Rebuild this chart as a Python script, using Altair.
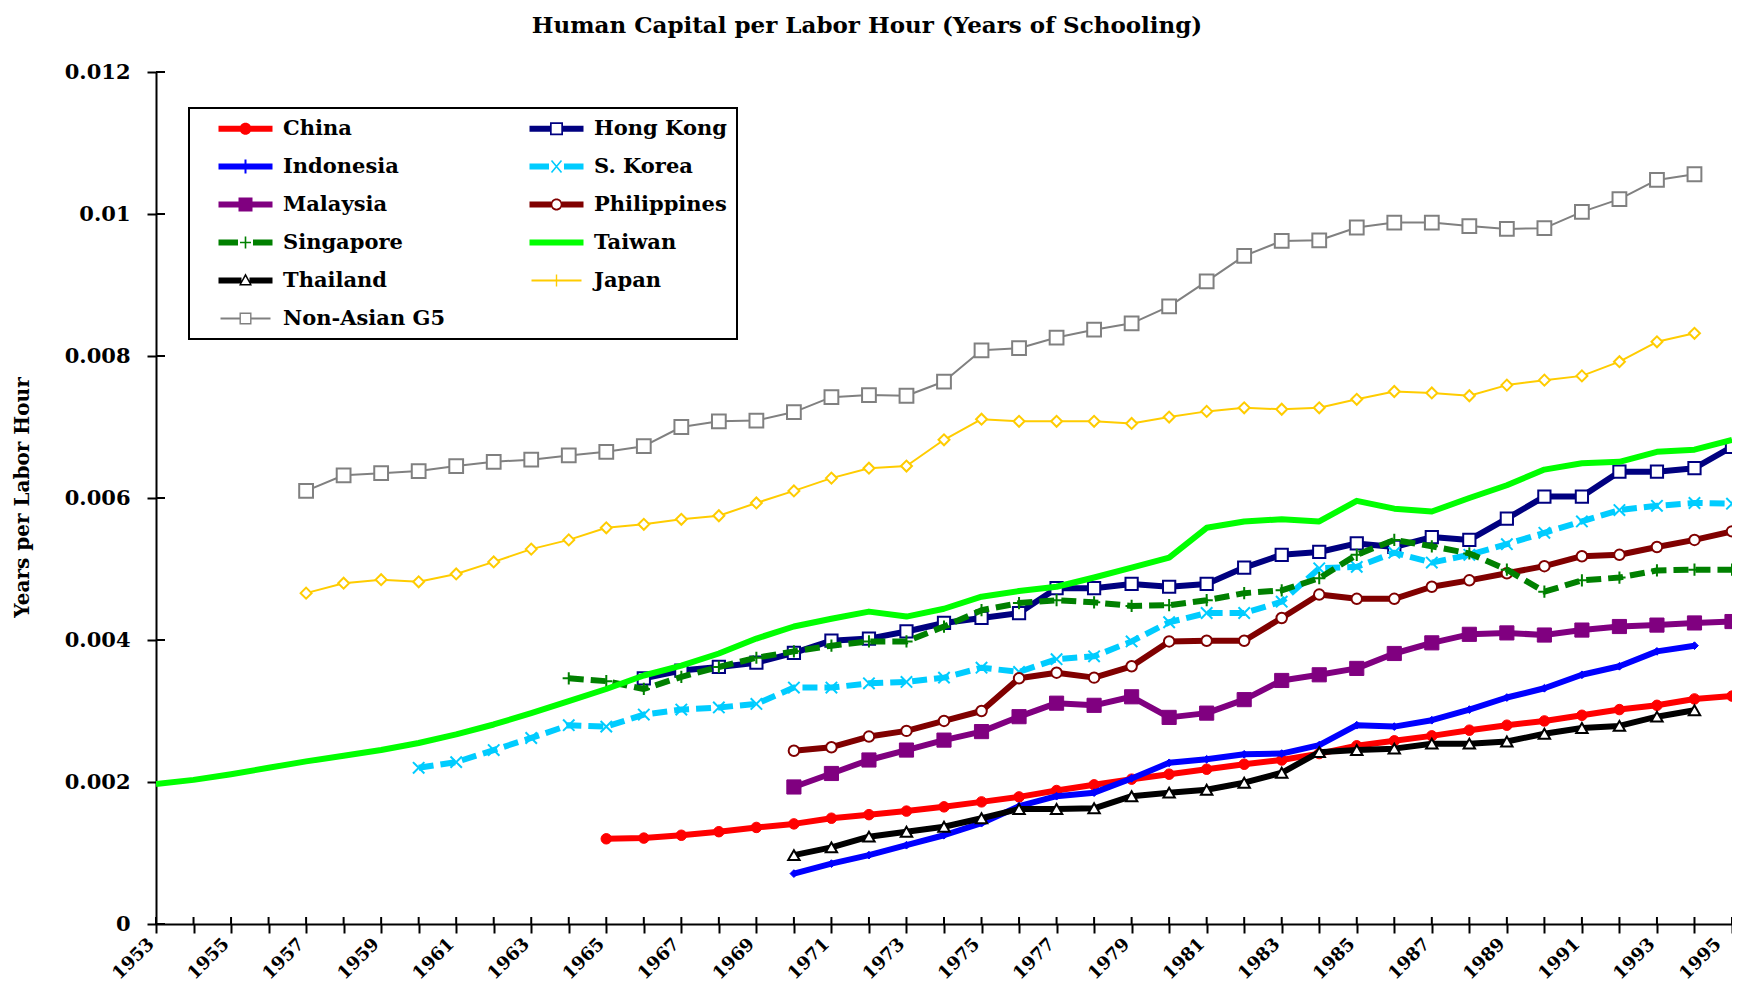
import altair as alt
import pandas as pd

# ---------------- data ----------------
years = list(range(1953, 1996))
series_names = ["China", "Hong Kong", "Indonesia", "S. Korea", "Malaysia", "Philippines",
                "Singapore", "Taiwan", "Thailand", "Japan", "Non-Asian G5"]

china_start = 1965
china = [0.00120, 0.00121, 0.00125, 0.00130, 0.00136, 0.00141, 0.00149, 0.00154, 0.00159, 0.00165,
         0.00172, 0.00179, 0.00188, 0.00196, 0.00204, 0.00211, 0.00218, 0.00225, 0.00231, 0.00240,
         0.00251, 0.00258, 0.00265, 0.00273, 0.00280, 0.00286, 0.00294, 0.00302, 0.00308, 0.00317, 0.00321]

hongkong_start = 1966
hongkong = [0.00346, 0.00357, 0.00362, 0.00368, 0.00382, 0.00399, 0.00402, 0.00412, 0.00424, 0.00431,
            0.00438, 0.00473, 0.00473, 0.00479, 0.00475, 0.00479, 0.00502, 0.00520, 0.00524, 0.00536,
            0.00531, 0.00545, 0.00541, 0.00571, 0.00602, 0.00602, 0.00637, 0.00637, 0.00642, 0.00672]

indonesia_start = 1970
indonesia = [0.00071, 0.00085, 0.00097, 0.00111, 0.00125, 0.00142, 0.00166, 0.00180, 0.00185, 0.00205,
             0.00227, 0.00232, 0.00239, 0.00240, 0.00252, 0.00280, 0.00278, 0.00287, 0.00302, 0.00319,
             0.00332, 0.00351, 0.00363, 0.00384, 0.00392]

korea_start = 1960
korea = [0.00220, 0.00228, 0.00245, 0.00262, 0.00280, 0.00278, 0.00295, 0.00302, 0.00305, 0.00310,
         0.00333, 0.00333, 0.00339, 0.00341, 0.00347, 0.00361, 0.00355, 0.00373, 0.00377, 0.00398,
         0.00425, 0.00438, 0.00438, 0.00454, 0.00501, 0.00503, 0.00523, 0.00509, 0.00520, 0.00535,
         0.00551, 0.00567, 0.00583, 0.00589, 0.00593, 0.00592]

malaysia_start = 1970
malaysia = [0.00193, 0.00212, 0.00231, 0.00245, 0.00259, 0.00271, 0.00292, 0.00311, 0.00308, 0.00320,
            0.00291, 0.00297, 0.00316, 0.00343, 0.00351, 0.00360, 0.00381, 0.00396, 0.00408, 0.00410,
            0.00407, 0.00414, 0.00419, 0.00421, 0.00424, 0.00426]

philippines_start = 1970
philippines = [0.00244, 0.00249, 0.00264, 0.00272, 0.00286, 0.00300, 0.00346, 0.00354, 0.00347, 0.00363,
               0.00398, 0.00399, 0.00399, 0.00431, 0.00464, 0.00458, 0.00458, 0.00475, 0.00484, 0.00494,
               0.00504, 0.00518, 0.00520, 0.00531, 0.00541, 0.00553]

singapore_start = 1964
singapore = [0.00346, 0.00342, 0.00331, 0.00348, 0.00362, 0.00375, 0.00384, 0.00392, 0.00398, 0.00398,
             0.00419, 0.00442, 0.00452, 0.00456, 0.00453, 0.00448, 0.00449, 0.00456, 0.00466, 0.00470,
             0.00487, 0.00520, 0.00541, 0.00532, 0.00522, 0.00499, 0.00468, 0.00484, 0.00488, 0.00498,
             0.00499, 0.00499]

taiwan_start = 1953
taiwan = [0.00197, 0.00203, 0.00211, 0.00220, 0.00229, 0.00237, 0.00245, 0.00255, 0.00267, 0.00281,
          0.00297, 0.00314, 0.00331, 0.00350, 0.00364, 0.00381, 0.00402, 0.00419, 0.00430, 0.00440,
          0.00433, 0.00444, 0.00461, 0.00469, 0.00475, 0.00488, 0.00502, 0.00516, 0.00558, 0.00567,
          0.00570, 0.00567, 0.00596, 0.00585, 0.00581, 0.00600, 0.00618, 0.00640, 0.00649, 0.00651,
          0.00665, 0.00668, 0.00682]

thailand_start = 1970
thailand = [0.00097, 0.00108, 0.00123, 0.00130, 0.00137, 0.00149, 0.00162, 0.00162, 0.00163, 0.00180,
            0.00185, 0.00189, 0.00199, 0.00213, 0.00242, 0.00245, 0.00247, 0.00254, 0.00254, 0.00257,
            0.00268, 0.00276, 0.00279, 0.00292, 0.00301]

japan_start = 1957
japan = [0.00466, 0.00480, 0.00485, 0.00482, 0.00493, 0.00510, 0.00528, 0.00541, 0.00558, 0.00563,
         0.00570, 0.00575, 0.00593, 0.00610, 0.00628, 0.00642, 0.00645, 0.00682, 0.00711, 0.00708,
         0.00708, 0.00708, 0.00705, 0.00714, 0.00722, 0.00727, 0.00725, 0.00727, 0.00739, 0.00750,
         0.00748, 0.00744, 0.00759, 0.00766, 0.00772, 0.00792, 0.00820, 0.00832]

g5_start = 1957
g5 = [0.00610, 0.00632, 0.00635, 0.00638, 0.00645, 0.00651, 0.00654, 0.00660, 0.00665, 0.00673,
      0.00700, 0.00708, 0.00709, 0.00721, 0.00742, 0.00745, 0.00744, 0.00764, 0.00808, 0.00811,
      0.00826, 0.00837, 0.00846, 0.00870, 0.00905, 0.00941, 0.00962, 0.00963, 0.00981, 0.00988,
      0.00988, 0.00983, 0.00979, 0.00980, 0.01003, 0.01021, 0.01048, 0.01056]

y_ticks = [0, 0.002, 0.004, 0.006, 0.008, 0.01, 0.012]

# ---------------- styles ----------------
colors = ["#FF0000", "#000080", "#0000FF", "#00CCFF", "#800080", "#800000",
          "#008000", "#00FF00", "#000000", "#FFCC00", "#808080"]

series_data = [
    ("China", china_start, china),
    ("Hong Kong", hongkong_start, hongkong),
    ("Indonesia", indonesia_start, indonesia),
    ("S. Korea", korea_start, korea),
    ("Malaysia", malaysia_start, malaysia),
    ("Philippines", philippines_start, philippines),
    ("Singapore", singapore_start, singapore),
    ("Taiwan", taiwan_start, taiwan),
    ("Thailand", thailand_start, thailand),
    ("Japan", japan_start, japan),
    ("Non-Asian G5", g5_start, g5),
]

rows = []
for name, start, vals in series_data:
    for i, v in enumerate(vals):
        rows.append({"series": name, "year": start + i, "value": v})
df = pd.DataFrame(rows)

CROSS_X = "M-1,-1L1,1M-1,1L1,-1"
PLUS = "M-1,0L1,0M0,-1L0,1"

line_style = {
    "China": dict(width=6),
    "Hong Kong": dict(width=6),
    "Indonesia": dict(width=6),
    "S. Korea": dict(width=6, dash=[15, 7]),
    "Malaysia": dict(width=6),
    "Philippines": dict(width=6),
    "Singapore": dict(width=6, dash=[15, 7]),
    "Taiwan": dict(width=6),
    "Thailand": dict(width=6),
    "Japan": dict(width=2),
    "Non-Asian G5": dict(width=2),
}
marker_style = {
    "China": dict(shape="circle", size=110, fill="#FF0000", stroke="#FF0000", sw=1),
    "Hong Kong": dict(shape="square", size=150, fill="white", stroke="#000080", sw=2),
    "Indonesia": dict(shape="diamond", size=60, fill="#0000FF", stroke="#0000FF", sw=1),
    "S. Korea": dict(shape=CROSS_X, size=130, fill="none", stroke="#00CCFF", sw=2),
    "Malaysia": dict(shape="square", size=200, fill="#800080", stroke="#800080", sw=1),
    "Philippines": dict(shape="circle", size=110, fill="white", stroke="#800000", sw=2),
    "Singapore": dict(shape=PLUS, size=150, fill="none", stroke="#008000", sw=2),
    "Thailand": dict(shape="triangle-up", size=130, fill="white", stroke="#000000", sw=2),
    "Japan": dict(shape="diamond", size=120, fill="white", stroke="#FFCC00", sw=2),
    "Non-Asian G5": dict(shape="square", size=190, fill="white", stroke="#808080", sw=2),
}

# ---------------- legend symbols (line + marker as one filled path) ----------------
def f(v):
    return ("%.3f" % v).rstrip("0").rstrip(".")

def rect(x0, x1, y0, y1, rev=False):
    if not rev:
        pts = [(x0, y0), (x1, y0), (x1, y1), (x0, y1)]
    else:
        pts = [(x0, y0), (x0, y1), (x1, y1), (x1, y0)]
    return "M" + "L".join(f(a) + "," + f(b) for a, b in pts) + "Z"

def poly(pts, rev=False):
    if rev:
        pts = pts[::-1]
    return "M" + "L".join(f(a) + "," + f(b) for a, b in pts) + "Z"

def circle(r, rev=False):
    s = 0 if rev else 1
    return ("M%s,0A%s,%s 0 1,%d %s,0A%s,%s 0 1,%d %s,0Z"
            % (f(-r), f(r), f(r), s, f(r), f(r), f(r), s, f(-r)))

def seg(x1, y1, x2, y2, w):
    dx, dy = x2 - x1, y2 - y1
    ln = (dx * dx + dy * dy) ** 0.5
    nx, ny = -dy / ln * w / 2, dx / ln * w / 2
    return poly([(x1 + nx, y1 + ny), (x2 + nx, y2 + ny), (x2 - nx, y2 - ny), (x1 - nx, y1 - ny)])

T = 0.3    # thick line half height
t = 0.1    # thin line half height
L = 2.7
legend_paths = [
    rect(-L, L, -T, T) + circle(0.6),                                               # China
    rect(-L, -0.62, -T, T) + rect(0.62, L, -T, T)
    + rect(-0.65, 0.65, -0.65, 0.65) + rect(-0.48, 0.48, -0.48, 0.48, rev=True),   # Hong Kong
    rect(-L, L, -T, T) + rect(-0.1, 0.1, -0.7, 0.7),                                 # Indonesia
    rect(-L, -0.75, -T, T) + rect(0.75, L, -T, T)
    + seg(-0.5, -0.6, 0.5, 0.6, 0.16) + seg(-0.5, 0.6, 0.5, -0.6, 0.16),             # S. Korea
    rect(-L, L, -T, T) + rect(-0.7, 0.7, -0.7, 0.7),                                 # Malaysia
    rect(-L, -0.55, -T, T) + rect(0.55, L, -T, T)
    + circle(0.6) + circle(0.42, rev=True),                                          # Philippines
    rect(-L, -0.75, -T, T) + rect(0.75, L, -T, T)
    + rect(-0.55, 0.55, -0.08, 0.08) + rect(-0.08, 0.08, -0.6, 0.6),                 # Singapore
    rect(-L, L, -T, T),                                                              # Taiwan
    rect(-L, -0.4, -T, T) + rect(0.4, L, -T, T)
    + poly([(0, -0.72), (0.65, 0.5), (-0.65, 0.5)])
    + poly([(0, -0.4), (0.42, 0.36), (-0.42, 0.36)], rev=True),                      # Thailand
    rect(-2.5, 2.5, -t, t) + rect(-0.07, 0.07, -0.6, 0.6),                           # Japan
    rect(-2.5, -0.6, -t, t) + rect(0.6, 2.5, -t, t)
    + rect(-0.6, 0.6, -0.6, 0.6) + rect(-0.46, 0.46, -0.46, 0.46, rev=True),         # Non-Asian G5
]

# ---------------- layout ----------------
W, H = 1576, 852
FONT = "DejaVu Serif"

xscale = alt.Scale(domain=[1953, 1995], nice=False, zero=False)
yscale = alt.Scale(domain=[0, 0.012], nice=False, zero=False)

x_axis = alt.Axis(values=years, format="d",
                  labelExpr="datum.value % 2 == 1 ? datum.label : ''",
                  labelAngle=-45, labelAlign="right", labelBaseline="middle",
                  labelFont=FONT, labelFontWeight="bold", labelFontSize=18, labelColor="black",
                  labelPadding=8,
                  labelOffset={"condition": {"test": "datum.value >= 1995", "value": -14},
                               "value": -5},
                  labelFlush=False, labelOverlap=False,
                  tickSize=9, tickWidth=2, tickColor="black",
                  domainColor="black", domainWidth=2, grid=False, title=None)
y_axis = alt.Axis(values=y_ticks, labelExpr="format(datum.value, '.3~f')",
                  labelFont=FONT, labelFontWeight="bold", labelFontSize=21, labelColor="black",
                  labelPadding=17, tickSize=9, tickWidth=2, tickColor="black",
                  domainColor="black", domainWidth=2, grid=False,
                  title="Years per Labor Hour", titleFont=FONT, titleFontWeight="bold",
                  titleFontSize=20, titleColor="black", titleAngle=270, titleAlign="center",
                  titleBaseline="middle", titleX=-134, titleY=425)

X = alt.X("year:Q", scale=xscale, axis=x_axis)
Y = alt.Y("value:Q", scale=yscale, axis=y_axis)

base = alt.Chart(df)
layers = []

# inner halves of the tick marks (ticks cross the axes in the original)
layers.append(
    alt.Chart(pd.DataFrame({"year": years})).mark_rule(color="black", strokeWidth=2)
    .encode(x=X, y=alt.value(H), y2=alt.value(H - 7))
)
layers.append(
    alt.Chart(pd.DataFrame({"value": y_ticks})).mark_rule(color="black", strokeWidth=2)
    .encode(y=Y, x=alt.value(0), x2=alt.value(9))
)

for name, col in zip(series_names, colors):
    ls = line_style[name]
    kw = dict(color=col, strokeWidth=ls["width"], strokeJoin="round", strokeCap="butt", clip=True)
    if "dash" in ls:
        kw["strokeDash"] = ls["dash"]
    sub = base.transform_filter(alt.datum.series == name)
    layers.append(sub.mark_line(**kw).encode(x=X, y=Y))
    if name in marker_style:
        ms = marker_style[name]
        layers.append(sub.mark_point(shape=ms["shape"], size=ms["size"], fill=ms["fill"],
                                     stroke=ms["stroke"], strokeWidth=ms["sw"], opacity=1,
                                     filled=False, clip=True).encode(x=X, y=Y))

legend_def = alt.Legend(orient="none", legendX=33, legendY=36, title=None, columns=2,
                        direction="horizontal",
                        labelFont=FONT, labelFontWeight="bold", labelFontSize=21,
                        labelColor="black", labelLimit=400, labelOffset=27, symbolOffset=36,
                        symbolSize=400, symbolStrokeWidth=0, symbolOpacity=1,
                        rowPadding=16, columnPadding=64, padding=10,
                        strokeColor="black", fillColor="white")
layers.append(
    base.transform_filter("false").mark_point(filled=True, size=400, strokeWidth=0, opacity=1)
    .encode(
        x=X, y=Y,
        color=alt.Color("series:N", scale=alt.Scale(domain=series_names, range=colors),
                        legend=legend_def),
        shape=alt.Shape("series:N", scale=alt.Scale(domain=series_names, range=legend_paths),
                        legend=legend_def),
    )
)

chart = alt.layer(*layers).properties(
    width=W, height=H,
    autosize=alt.AutoSizeParams(type="none"),
    padding={"left": 148, "top": 64, "right": 0, "bottom": 64},
    background="white",
    title=alt.TitleParams("Human Capital per Labor Hour (Years of Schooling)", font=FONT,
                          fontSize=23, fontWeight="bold", color="black", anchor="middle",
                          frame="group", offset=23, dx=-77),
).configure_view(stroke=None).configure_legend(strokeWidth=2)

chart.save("out.html", embed_options={"renderer": "svg", "actions": False})
